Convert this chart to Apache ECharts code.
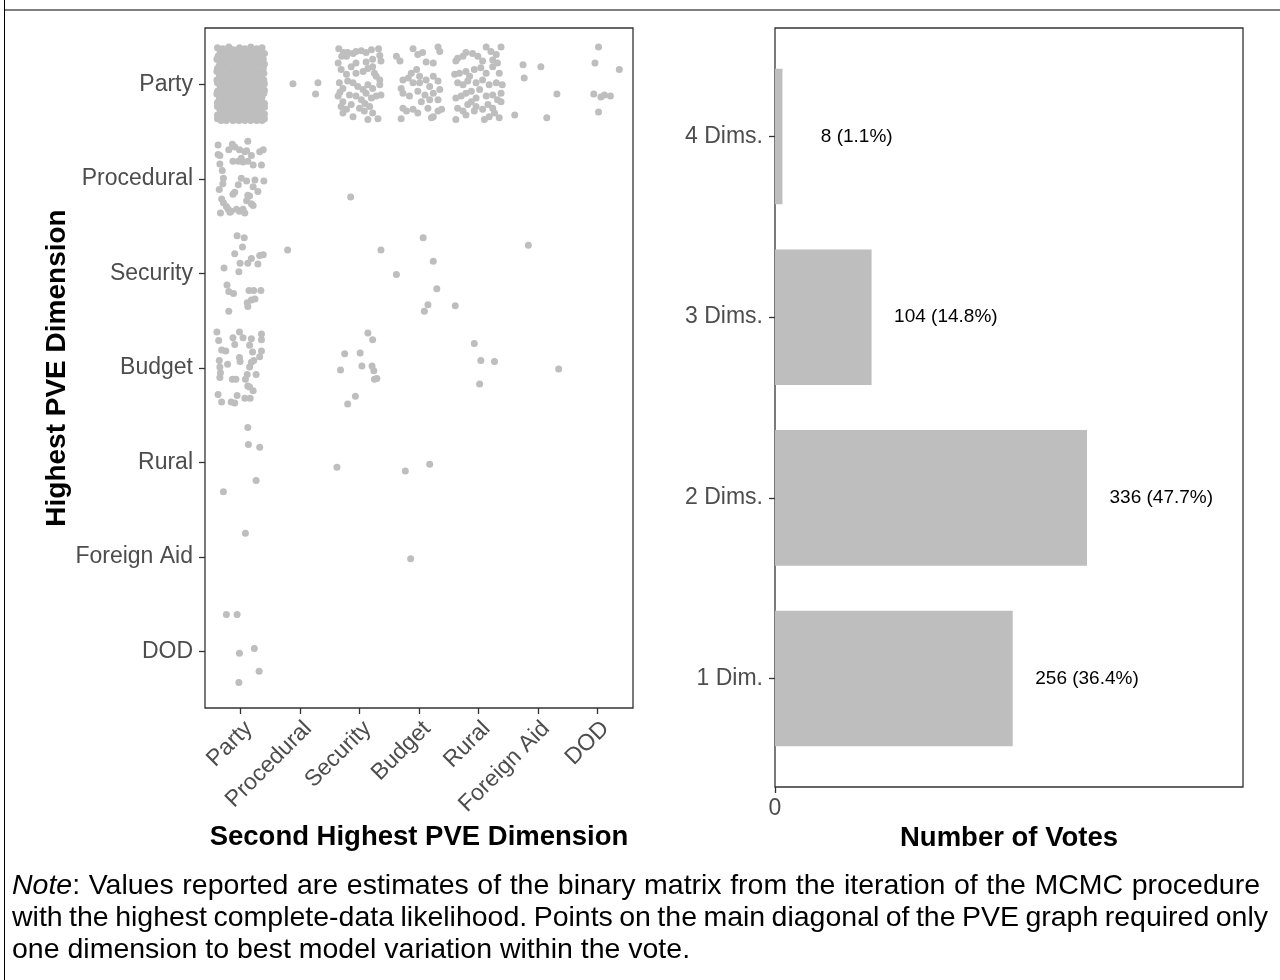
<!DOCTYPE html>
<html><head><meta charset="utf-8">
<script src="https://cdn.jsdelivr.net/npm/echarts@6/dist/echarts.min.js"></script>
<style>html,body{margin:0;padding:0;background:#fff}#c{width:1280px;height:980px}</style>
</head><body><div id="c"></div>
<script>
// ---------- categories ----------
const dims = ['Party','Procedural','Security','Budget','Rural','Foreign Aid','DOD'];
const voteCats = ['1 Dim.','2 Dims.','3 Dims.','4 Dims.'];
const voteCounts = [256, 336, 104, 8];
const votePcts = ['36.4%','47.7%','14.8%','1.1%'];
const xTickLabel = ['0'];
const noteItalic = 'Note';
const noteLines = [
  ': Values reported are estimates of the binary matrix from the iteration of the MCMC procedure',
  'with the highest complete-data likelihood. Points on the main diagonal of the PVE graph required only',
  'one dimension to best model variation within the vote.'
];

// ---------- jittered points: [dx, dy] around the cell centre (dy > 0 = upward) ----------
// Highest = Party
const party_party = [
[-0.39,0.39],[-0.30,0.38],[-0.20,0.40],[-0.12,0.37],[-0.02,0.39],[0.07,0.38],[0.17,0.40],[0.27,0.38],[0.36,0.39],
[-0.35,0.33],[-0.25,0.32],[-0.15,0.34],[-0.06,0.31],[0.03,0.33],[0.12,0.32],[0.22,0.34],[0.31,0.31],[0.40,0.33],
[-0.40,0.27],[-0.30,0.26],[-0.21,0.28],[-0.11,0.25],[-0.01,0.27],[0.08,0.26],[0.18,0.28],[0.29,0.26],[0.38,0.27],
[-0.36,0.20],[-0.26,0.21],[-0.16,0.19],[-0.05,0.21],[0.04,0.20],[0.14,0.21],[0.24,0.19],[0.33,0.20],
[-0.40,0.14],[-0.31,0.13],[-0.20,0.15],[-0.10,0.13],[0.00,0.14],[0.09,0.15],[0.19,0.13],[0.29,0.14],[0.39,0.12],
[-0.35,0.08],[-0.25,0.07],[-0.15,0.09],[-0.04,0.08],[0.06,0.07],[0.15,0.09],[0.25,0.08],[0.35,0.07],
[-0.39,0.02],[-0.29,0.01],[-0.19,0.03],[-0.09,0.01],[0.02,0.02],[0.11,0.03],[0.21,0.01],[0.31,0.02],[0.40,0.01],
[-0.34,-0.04],[-0.24,-0.05],[-0.14,-0.03],[-0.03,-0.04],[0.07,-0.05],[0.17,-0.03],[0.26,-0.04],[0.36,-0.05],
[-0.40,-0.10],[-0.30,-0.11],[-0.20,-0.09],[-0.10,-0.10],[0.01,-0.11],[0.11,-0.09],[0.21,-0.10],[0.31,-0.11],[0.39,-0.09],
[-0.36,-0.16],[-0.26,-0.17],[-0.15,-0.15],[-0.05,-0.16],[0.05,-0.17],[0.15,-0.15],[0.25,-0.16],[0.35,-0.17],
[-0.39,-0.23],[-0.29,-0.22],[-0.19,-0.24],[-0.09,-0.22],[0.01,-0.23],[0.10,-0.24],[0.20,-0.22],[0.30,-0.23],[0.40,-0.24],
[-0.34,-0.29],[-0.24,-0.30],[-0.14,-0.28],[-0.04,-0.29],[0.06,-0.30],[0.16,-0.28],[0.26,-0.29],[0.36,-0.30],
[-0.39,-0.36],[-0.29,-0.37],[-0.18,-0.35],[-0.08,-0.36],[0.02,-0.37],[0.12,-0.35],[0.22,-0.36],[0.32,-0.37],[0.40,-0.36],
// second, interleaved layer
[-0.34,0.36],[-0.25,0.36],[-0.16,0.37],[-0.07,0.35],[0.02,0.36],[0.12,0.36],[0.22,0.37],[0.31,0.35],
[-0.38,0.30],[-0.29,0.29],[-0.20,0.31],[-0.10,0.29],[-0.01,0.30],[0.08,0.29],[0.17,0.31],[0.26,0.30],[0.36,0.29],
[-0.35,0.24],[-0.25,0.23],[-0.16,0.24],[-0.06,0.23],[0.03,0.24],[0.13,0.23],[0.23,0.24],[0.33,0.23],[0.40,0.22],
[-0.39,0.17],[-0.30,0.17],[-0.21,0.18],[-0.11,0.17],[-0.01,0.17],[0.09,0.18],[0.19,0.16],[0.28,0.17],[0.38,0.17],
[-0.36,0.11],[-0.26,0.10],[-0.15,0.11],[-0.05,0.11],[0.05,0.10],[0.14,0.12],[0.24,0.11],[0.34,0.10],
[-0.40,0.05],[-0.30,0.04],[-0.20,0.06],[-0.10,0.04],[0.00,0.05],[0.10,0.06],[0.20,0.04],[0.30,0.05],[0.39,0.05],
[-0.35,-0.01],[-0.24,-0.02],[-0.14,0.00],[-0.04,-0.01],[0.06,-0.01],[0.16,-0.02],[0.26,0.00],[0.35,-0.01],
[-0.39,-0.07],[-0.29,-0.07],[-0.19,-0.06],[-0.09,-0.08],[0.02,-0.07],[0.12,-0.06],[0.22,-0.08],[0.31,-0.07],[0.40,-0.06],
[-0.35,-0.13],[-0.25,-0.14],[-0.15,-0.12],[-0.04,-0.13],[0.06,-0.14],[0.16,-0.12],[0.26,-0.13],[0.36,-0.13],
[-0.39,-0.19],[-0.30,-0.20],[-0.20,-0.19],[-0.10,-0.20],[0.00,-0.19],[0.10,-0.20],[0.20,-0.19],[0.30,-0.19],[0.40,-0.20],
[-0.35,-0.26],[-0.25,-0.26],[-0.14,-0.25],[-0.04,-0.26],[0.06,-0.26],[0.15,-0.25],[0.25,-0.26],[0.35,-0.26],
[-0.39,-0.32],[-0.29,-0.33],[-0.19,-0.32],[-0.09,-0.33],[0.01,-0.32],[0.11,-0.33],[0.21,-0.32],[0.31,-0.33],[0.40,-0.31],
[-0.33,-0.38],[-0.24,-0.38],[-0.13,-0.38],[-0.03,-0.38],[0.07,-0.38],[0.17,-0.38],[0.27,-0.38],[0.36,-0.38]
];
const party_procedural = [[-0.12,0.01],[0.30,0.02],[0.26,-0.10]];
const party_security = [
[-0.35,0.38],[-0.27,0.34],[-0.20,0.34],[-0.11,0.33],[-0.06,0.35],[0.03,0.36],[0.11,0.34],[0.20,0.37],[0.32,0.38],[0.34,0.31],
[0.36,0.25],[-0.36,0.23],[-0.22,0.30],[-0.06,0.23],[0.11,0.24],[0.22,0.27],[-0.31,0.16],[-0.22,0.11],[-0.14,0.19],[-0.06,0.12],
[0.06,0.14],[0.14,0.17],[0.22,0.19],[0.28,0.09],[0.34,0.05],[-0.34,0.02],[-0.28,-0.04],[-0.20,0.04],[-0.11,0.02],[-0.03,-0.02],
[0.06,-0.05],[0.14,0.00],[0.22,-0.04],[0.34,0.00],[-0.36,-0.12],[-0.28,-0.18],[-0.17,-0.11],[-0.06,-0.12],[0.03,-0.16],[0.11,-0.09],
[0.20,-0.14],[0.28,-0.12],[0.36,-0.11],[-0.31,-0.23],[-0.22,-0.26],[-0.11,-0.34],[0.00,-0.25],[0.08,-0.28],[0.14,-0.37],[0.22,-0.30],
[0.31,-0.36],[-0.28,-0.30],[-0.14,-0.21],[0.17,-0.23],[-0.30,0.30],[-0.33,-0.08],[0.25,0.12],[0.09,-0.20]
];
const party_budget = [
[-0.38,0.30],[-0.32,0.25],[-0.10,0.38],[-0.02,0.32],[0.06,0.34],[0.12,0.24],[0.24,0.23],[0.32,0.40],[0.35,0.35],[-0.13,0.12],
[-0.04,0.16],[0.01,0.09],[-0.27,0.05],[-0.18,0.07],[-0.10,0.02],[-0.30,-0.04],[0.01,0.02],[0.12,0.05],[0.18,-0.02],[0.24,0.09],
[0.32,0.04],[-0.16,-0.12],[-0.02,-0.07],[0.10,-0.11],[0.24,-0.09],[0.32,-0.16],[0.35,-0.05],[-0.27,-0.25],[-0.21,-0.28],[-0.10,-0.26],
[-0.02,-0.30],[0.15,-0.25],[0.24,-0.34],[0.32,-0.28],[-0.30,-0.36],[0.21,-0.35],[0.38,-0.26],[-0.27,-0.09],[0.18,-0.16],[0.04,-0.18]
];
const party_rural = [
[-0.38,0.25],[-0.35,0.28],[-0.26,0.30],[-0.21,0.34],[-0.10,0.33],[-0.01,0.30],[0.07,0.25],[0.13,0.40],[0.21,0.35],[0.24,0.26],
[0.30,0.32],[0.38,0.40],[0.32,0.23],[-0.40,0.11],[-0.32,0.12],[-0.21,0.14],[-0.15,0.09],[-0.07,0.16],[0.04,0.18],[0.13,0.12],
[0.24,0.19],[0.35,0.12],[-0.35,0.02],[-0.26,0.00],[-0.18,0.04],[-0.04,0.02],[0.07,0.05],[0.18,0.00],[0.30,0.02],[0.40,0.00],
[-0.38,-0.14],[-0.29,-0.12],[-0.21,-0.09],[-0.12,-0.07],[0.02,-0.05],[0.13,-0.12],[0.24,-0.11],[0.38,-0.09],[-0.35,-0.25],[-0.26,-0.28],
[-0.18,-0.21],[-0.04,-0.23],[0.07,-0.26],[0.16,-0.21],[0.24,-0.25],[0.38,-0.18],[-0.38,-0.37],[-0.21,-0.32],[-0.07,-0.28],[0.10,-0.37],
[0.18,-0.34],[0.35,-0.35],[0.27,-0.30],[0.32,-0.16],[-0.04,-0.14],[-0.12,-0.18]
];
const party_foreignaid = [[-0.25,0.21],[0.05,0.19],[-0.23,0.07],[0.32,-0.10],[-0.39,-0.32],[0.15,-0.35]];
const party_dod = [[0.02,0.40],[-0.04,0.23],[0.37,0.16],[-0.06,-0.10],[0.06,-0.13],[0.12,-0.11],[0.22,-0.12],[0.02,-0.29]];
// Highest = Procedural
const procedural_party = [
[-0.38,0.36],[-0.38,0.26],[-0.35,0.25],[-0.35,0.16],[-0.31,0.09],[-0.29,0.01],[-0.30,-0.05],[-0.36,-0.11],[-0.32,-0.21],[-0.29,-0.25],
[-0.34,-0.36],[-0.21,-0.32],[-0.16,-0.34],[-0.20,0.31],[-0.14,0.37],[-0.10,0.34],[-0.02,0.31],[0.07,0.29],[0.12,0.40],[0.10,0.30],
[0.18,0.25],[0.32,0.29],[0.38,0.31],[-0.13,0.19],[-0.04,0.19],[0.01,0.22],[0.04,0.18],[0.12,0.19],[0.21,0.15],[0.35,0.15],
[0.01,0.01],[0.10,-0.02],[0.24,-0.01],[0.39,-0.02],[0.21,-0.08],[0.29,-0.13],[-0.04,-0.06],[-0.10,-0.14],[-0.13,-0.16],[0.12,-0.17],
[0.10,-0.23],[0.18,-0.26],[0.21,-0.28],[0.04,-0.32],[-0.02,-0.34],[0.07,-0.36],[-0.18,-0.35],[-0.07,-0.32],[0.15,-0.18],[-0.24,-0.29]
];
const procedural_security = [[-0.15,-0.19]];
// Highest = Security
const security_party = [
[-0.06,0.40],[0.06,0.38],[0.03,0.28],[-0.10,0.21],[0.32,0.19],[0.38,0.20],[0.18,0.16],[0.12,0.11],[-0.01,0.11],[0.29,0.10],
[-0.28,0.06],[-0.03,0.02],[-0.23,-0.12],[-0.20,-0.19],[-0.12,-0.21],[0.14,-0.18],[0.22,-0.18],[0.34,-0.18],[0.24,-0.27],[0.18,-0.28],
[0.11,-0.31],[0.12,-0.35],[-0.20,-0.40]
];
const security_procedural = [[-0.21,0.25]];
const security_security = [[0.36,0.25]];
const security_budget = [[0.07,0.38],[0.24,0.13],[-0.38,-0.01],[0.30,-0.16],[0.15,-0.33],[0.09,-0.40]];
const security_rural = [[-0.39,-0.34]];
const security_foreignaid = [[-0.16,0.30]];
// Highest = Budget
const budget_party = [
[-0.40,0.38],[-0.37,0.29],[-0.13,0.32],[-0.02,0.38],[0.04,0.32],[0.18,0.31],[0.35,0.36],[0.35,0.30],[-0.10,0.25],[0.15,0.24],
[-0.32,0.19],[-0.25,0.18],[0.20,0.17],[0.35,0.18],[0.32,0.12],[-0.36,0.08],[-0.35,0.01],[-0.34,-0.05],[-0.22,0.04],[-0.02,0.11],
[-0.01,0.07],[0.18,0.06],[0.15,0.01],[0.22,0.08],[-0.35,-0.10],[-0.14,-0.12],[-0.08,-0.12],[0.08,-0.12],[0.11,-0.07],[0.26,-0.07],
[0.15,-0.20],[0.21,-0.24],[-0.38,-0.28],[-0.32,-0.36],[-0.16,-0.36],[-0.10,-0.37],[-0.06,-0.29],[0.07,-0.32],[0.16,-0.32],[0.12,-0.19]
];
const budget_security = [[-0.25,0.15],[0.14,0.37],[0.22,0.30],[0.01,0.16],[-0.32,-0.02],[0.04,0.02],[0.21,0.02],[0.24,-0.03],[0.25,-0.12],[0.29,-0.11],[-0.07,-0.30],[-0.20,-0.38]];
const budget_rural = [[-0.07,0.26],[0.04,0.08],[0.27,0.07],[0.02,-0.17]];
const budget_foreignaid = [[0.35,-0.01]];
// Highest = Rural
const rural_party = [[0.12,0.37],[0.13,0.19],[0.32,0.16],[0.26,-0.19],[-0.29,-0.31]];
const rural_security = [[-0.38,-0.05]];
const rural_budget = [[-0.23,-0.09],[0.18,-0.02]];
// Highest = Foreign Aid
const foreignaid_party = [[0.08,0.25]];
const foreignaid_budget = [[-0.14,-0.02]];
// Highest = DOD
const dod_party = [[-0.24,0.39],[-0.06,0.39],[-0.02,-0.02],[0.23,0.03],[0.31,-0.21],[-0.03,-0.33]];

// [highest, second highest, points]
const cells = [
  ['Party','Party',party_party],['Party','Procedural',party_procedural],['Party','Security',party_security],
  ['Party','Budget',party_budget],['Party','Rural',party_rural],['Party','Foreign Aid',party_foreignaid],['Party','DOD',party_dod],
  ['Procedural','Party',procedural_party],['Procedural','Security',procedural_security],
  ['Security','Party',security_party],['Security','Procedural',security_procedural],['Security','Security',security_security],
  ['Security','Budget',security_budget],['Security','Rural',security_rural],['Security','Foreign Aid',security_foreignaid],
  ['Budget','Party',budget_party],['Budget','Security',budget_security],['Budget','Rural',budget_rural],['Budget','Foreign Aid',budget_foreignaid],
  ['Rural','Party',rural_party],['Rural','Security',rural_security],['Rural','Budget',rural_budget],
  ['Foreign Aid','Party',foreignaid_party],['Foreign Aid','Budget',foreignaid_budget],
  ['DOD','Party',dod_party]
];

// ---------- build ----------
const scatterData = [];
cells.forEach(([hi, se, pts]) => {
  const yi = dims.indexOf(hi) + 1, xi = dims.indexOf(se) + 1;
  pts.forEach(([dx, dy]) => scatterData.push([xi + dx, yi - dy]));
});
const barData = voteCounts.map((v, i) => [v, i + 1]);
const idx = dims.map((d, i) => i + 1);
const vidx = voteCats.map((d, i) => i + 1);

const FONTNAME = '"Liberation Sans", Arial, Helvetica, sans-serif';
const NOTE_SIZE = 28.5;
const TICK = {color: '#4d4d4d', fontSize: 23, fontFamily: FONTNAME};
const TITLE = {color: '#000', fontSize: 27.5, fontWeight: 'bold', fontFamily: FONTNAME};
const tickStyle = {show: true, length: 6, lineStyle: {color: '#333', width: 1.3}};

// ---------- justified note (layout only) ----------
const mctx = document.createElement('canvas').getContext('2d');
function measure(t, italic) { mctx.font = (italic ? 'italic ' : '') + NOTE_SIZE + 'px ' + FONTNAME; return mctx.measureText(t).width; }
const noteLeft = 12, noteRights = [1260, 1268, null], noteYs = [886, 918, 950];
const noteEls = [];
noteLines.forEach((line, li) => {
  let words = line.split(' ');
  const items = words.map(w => ({rich: '{n|' + w + '}', w: measure(w, false)}));
  if (li === 0) { // italic "Note" glued to ":"
    items[0] = {rich: '{i|' + noteItalic + '}{n|' + words[0] + '}', w: measure(noteItalic, true) + measure(words[0], false)};
  }
  const total = items.reduce((s, it) => s + it.w, 0);
  const gap = noteRights[li] ? (noteRights[li] - noteLeft - total) / (items.length - 1) : measure(' ', false);
  let x = noteLeft;
  items.forEach(it => {
    noteEls.push({type: 'text', x: x, y: noteYs[li], silent: true,
      style: {text: it.rich, verticalAlign: 'middle', align: 'left',
        rich: {i: {fontStyle: 'italic', fontSize: NOTE_SIZE, fontFamily: FONTNAME, fill: '#000'},
               n: {fontSize: NOTE_SIZE, fontFamily: FONTNAME, fill: '#000'}}}});
    x += it.w + gap;
  });
});

const chart = echarts.init(document.getElementById('c'), null, {renderer: 'canvas'});
chart.setOption({
  animation: false,
  backgroundColor: '#fff',
  grid: [
    {left: 205, top: 28, width: 428, height: 680, show: true, borderColor: '#333', borderWidth: 1.3, backgroundColor: 'rgba(0,0,0,0)'},
    {left: 775, top: 28, width: 468, height: 759, show: true, borderColor: '#333', borderWidth: 1.3, backgroundColor: 'rgba(0,0,0,0)'}
  ],
  xAxis: [
    {gridIndex: 0, type: 'value', min: 0.4, max: 7.6, splitLine: {show: false}, axisLine: {show: false},
     axisTick: Object.assign({customValues: idx}, tickStyle),
     axisLabel: Object.assign({customValues: idx, rotate: 45, margin: 9, verticalAlign: 'top', formatter: v => dims[Math.round(v) - 1]}, TICK),
     name: 'Second Highest PVE Dimension', nameLocation: 'middle', nameGap: 114, nameTextStyle: TITLE},
    {gridIndex: 1, type: 'value', min: 0, max: 504, splitLine: {show: false}, axisLine: {show: false},
     axisTick: Object.assign({customValues: [0]}, tickStyle),
     axisLabel: Object.assign({customValues: [0], margin: 10, formatter: () => xTickLabel[0]}, TICK),
     name: 'Number of Votes', nameLocation: 'middle', nameGap: 34, nameTextStyle: TITLE}
  ],
  yAxis: [
    {gridIndex: 0, type: 'value', min: 0.4, max: 7.6, inverse: true, splitLine: {show: false}, axisLine: {show: false},
     axisTick: Object.assign({customValues: idx}, tickStyle),
     axisLabel: Object.assign({customValues: idx, margin: 12, formatter: v => dims[Math.round(v) - 1]}, TICK),
     name: 'Highest PVE Dimension', nameLocation: 'middle', nameGap: 127, nameRotate: 90, nameTextStyle: Object.assign({}, TITLE, {fontSize: 28})},
    {gridIndex: 1, type: 'value', min: 0.4, max: 4.6, splitLine: {show: false}, axisLine: {show: false},
     axisTick: Object.assign({customValues: vidx}, tickStyle),
     axisLabel: Object.assign({customValues: vidx, margin: 12, formatter: v => voteCats[Math.round(v) - 1]}, TICK)}
  ],
  series: [
    {type: 'scatter', xAxisIndex: 0, yAxisIndex: 0, data: scatterData, symbol: 'circle', symbolSize: 7,
     itemStyle: {color: '#bebebe', opacity: 1}, silent: true},
    {type: 'custom', xAxisIndex: 1, yAxisIndex: 1, data: barData, silent: true,
     renderItem: function (params, api) {
       const v = api.value(0), y = api.value(1);
       const a = api.coord([0, y + 0.375]), b = api.coord([v, y - 0.375]);
       const t = api.coord([v + 80, y]);
       return {type: 'group', children: [
         {type: 'rect', shape: {x: a[0], y: Math.min(a[1], b[1]), width: b[0] - a[0], height: Math.abs(b[1] - a[1])},
          style: {fill: '#bebebe'}},
         {type: 'text', x: t[0], y: t[1],
          style: {text: voteCounts[params.dataIndex] + ' (' + votePcts[params.dataIndex] + ')', fill: '#000',
                  fontSize: 19, fontFamily: FONTNAME, align: 'center', verticalAlign: 'middle'}}
       ]};
     }}
  ],
  graphic: [
    {type: 'line', shape: {x1: 4, y1: 10, x2: 1280, y2: 10}, style: {stroke: '#7f7f7f', lineWidth: 2}, silent: true},
    {type: 'line', shape: {x1: 4.5, y1: 0, x2: 4.5, y2: 980}, style: {stroke: '#000', lineWidth: 1}, silent: true}
  ].concat(noteEls)
});
</script>
</body></html>
